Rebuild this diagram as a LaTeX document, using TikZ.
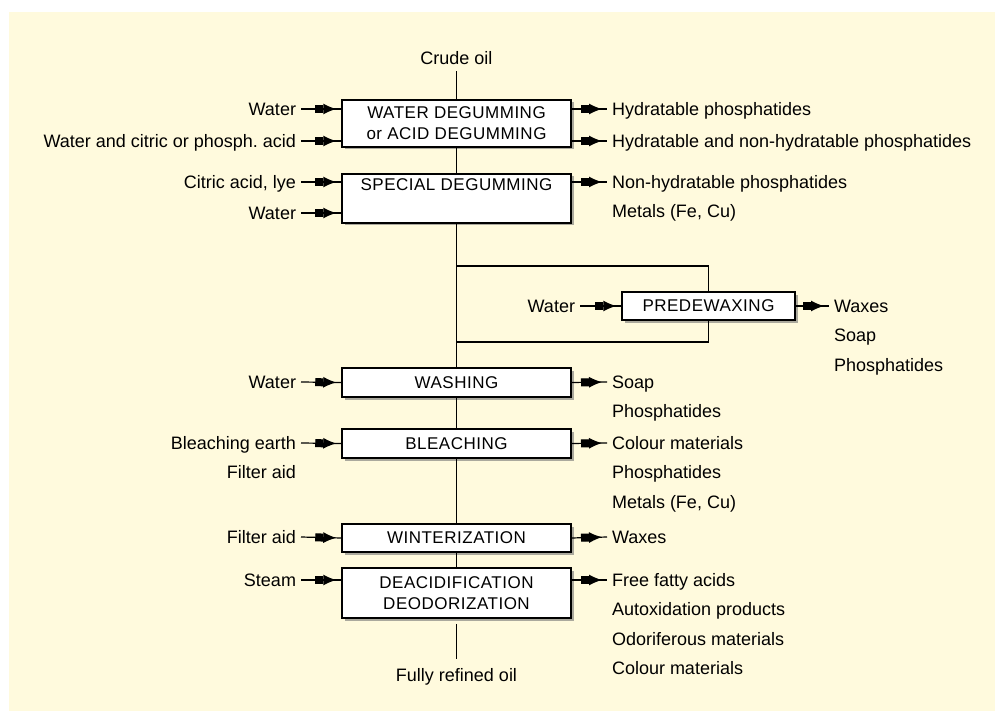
\documentclass[tikz,border=0pt]{standalone}
\usepackage{fontspec}
\setmainfont{Liberation Sans}
\newfontfamily\stagefont{Liberation Sans}[LetterSpace=3]
\usetikzlibrary{arrows.meta,positioning,shadows,decorations.markings}
\definecolor{paper}{RGB}{255,250,221}
\tikzset{
  stage/.style={draw, line width=1.5pt, fill=white, rectangle, align=center, inner sep=0pt,
    minimum width=229pt, font=\stagefont\fontsize{17}{21}\selectfont,
    drop shadow={shadow xshift=2.5pt, shadow yshift=-2.5pt, fill=black!55, opacity=0.6}},
  lbl/.style={font=\fontsize{18}{29}\selectfont, inner sep=0pt, outer xsep=5pt,
    text height=13pt, text depth=0pt},
  flow/.style={line width=1.2pt},
  feed/.style={flow, postaction={decorate},
    decoration={markings, mark=at position -5pt with
      {\arrow{Square[length=8pt,width=8pt] Latex[length=13pt,width=11pt]}}}},
}
\begin{document}
\begin{tikzpicture}[x=1pt, y=-1pt, node distance=16pt]
\useasboundingbox (0,0) rectangle (995,711);
\fill[paper] (9,12) rectangle (995,711);

% process stages
\node[stage, minimum height=47pt] (dg) at (456.5,123.5) {WATER DEGUMMING\\or ACID DEGUMMING};
\node[stage, minimum height=49pt] (sd) at (456.5,198.5) {SPECIAL DEGUMMING\\\strut};
\node[stage, minimum width=173pt, minimum height=28pt] (pw) at (708.5,306) {PREDEWAXING};
\node[stage, minimum height=29pt] (wa) at (456.5,382.5) {WASHING};
\node[stage, minimum height=29pt] (bl) at (456.5,443.5) {BLEACHING};
\node[stage, minimum height=28pt] (wi) at (456.5,538) {WINTERIZATION};
\node[stage, minimum height=50pt] (dd) at (456.5,593) {DEACIDIFICATION\\DEODORIZATION};

\node[lbl, outer ysep=7pt] (crude) at (456.5,58) {Crude oil};
\node[lbl, outer ysep=10pt] (refined) at (456.5,675) {Fully refined oil};

% main line
\draw[flow] (crude) -- (dg);
\draw[flow] (dg) -- (sd);
\draw[flow] (sd) -- (wa);
\draw[flow] (wa) -- (bl);
\draw[flow] (bl) -- (wi);
\draw[flow] (wi) -- (dd);
\draw[flow] ([yshift=-5pt]dd.south) -- (refined);

% side loop
\coordinate (split) at (456.5,266);
\coordinate (merge) at (456.5,342);
\draw[flow] (split) -| (pw);
\draw[flow] (pw) |- (merge);

% inputs
\node[lbl, anchor=east] (i1) at (301,109) {Water};
\node[lbl, anchor=east] (i2) at (301,141) {Water and citric or phosph.\ acid};
\node[lbl, anchor=east] (i3) at (301,182) {Citric acid, lye};
\node[lbl, anchor=east] (i4) at (301,213) {Water};
\node[lbl, anchor=east] (i5) at (580,306) {Water};
\node[lbl, anchor=east] (i6) at (301,382) {Water};
\node[lbl, anchor=east] (i7) at (301,443) {Bleaching earth};
\node[lbl, below=of i7.south east, anchor=north east] (i7b) {Filter aid};
\node[lbl, anchor=east] (i8) at (301,537) {Filter aid};
\node[lbl, anchor=east] (i9) at (301,580) {Steam};
\draw[feed] (i1.east) -- (i1 -| dg.west);
\draw[feed] (i2.east) -- (i2 -| dg.west);
\draw[feed] (i3.east) -- (i3 -| sd.west);
\draw[feed] (i4.east) -- (i4 -| sd.west);
\draw[feed] (i5.east) -- (pw.west);
\draw[feed] (i6.east) -- (wa.west);
\draw[feed] (i7.east) -- (bl.west);
\draw[feed] (i8.east) -- (wi.west);
\draw[feed] (i9.east) -- (i9 -| dd.west);

% outputs
\node[lbl, anchor=west] (o1) at (607,109) {Hydratable phosphatides};
\node[lbl, anchor=west] (o2) at (607,141) {Hydratable and non-hydratable phosphatides};
\node[lbl, anchor=west] (o3) at (607,182) {Non-hydratable phosphatides};
\node[lbl, below=of o3.south west, anchor=north west] (o3b) {Metals (Fe, Cu)};
\node[lbl, anchor=west] (o4) at (829,306) {Waxes};
\node[lbl, below=of o4.south west, anchor=north west] (o4b) {Soap};
\node[lbl, below=of o4b.south west, anchor=north west] (o4c) {Phosphatides};
\node[lbl, anchor=west] (o5) at (607,382) {Soap};
\node[lbl, below=of o5.south west, anchor=north west] (o5b) {Phosphatides};
\node[lbl, anchor=west] (o6) at (607,443) {Colour materials};
\node[lbl, below=of o6.south west, anchor=north west] (o6b) {Phosphatides};
\node[lbl, below=of o6b.south west, anchor=north west] (o6c) {Metals (Fe, Cu)};
\node[lbl, anchor=west] (o7) at (607,537) {Waxes};
\node[lbl, anchor=west] (o8) at (607,580) {Free fatty acids};
\node[lbl, below=of o8.south west, anchor=north west] (o8b) {Autoxidation products};
\node[lbl, below=of o8b.south west, anchor=north west] (o8c) {Odoriferous materials};
\node[lbl, below=of o8c.south west, anchor=north west] (o8d) {Colour materials};
\draw[feed] (o1 -| dg.east) -- (o1.west);
\draw[feed] (o2 -| dg.east) -- (o2.west);
\draw[feed] (o3 -| sd.east) -- (o3.west);
\draw[feed] (pw.east) -- (o4.west);
\draw[feed] (wa.east) -- (o5.west);
\draw[feed] (bl.east) -- (o6.west);
\draw[feed] (wi.east) -- (o7.west);
\draw[feed] (o8 -| dd.east) -- (o8.west);
\end{tikzpicture}
\end{document}
